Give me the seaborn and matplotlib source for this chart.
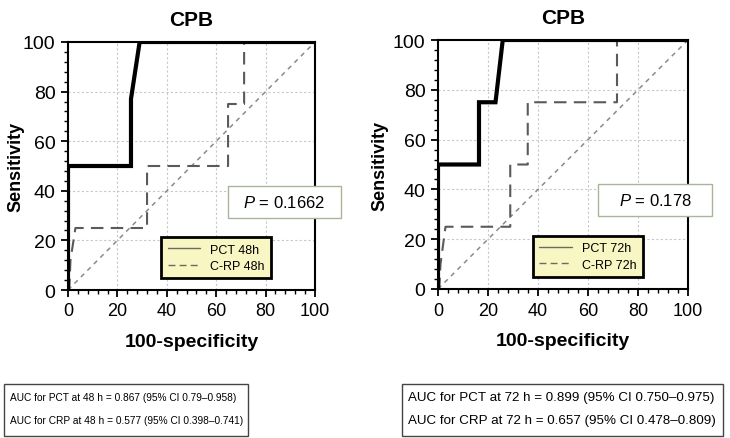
import numpy as np
import pandas as pd
import matplotlib
matplotlib.use("Agg")
import matplotlib.pyplot as plt
import seaborn as sns
from matplotlib.lines import Line2D
from matplotlib.patches import Rectangle
from matplotlib.ticker import MultipleLocator

# ROC-punkter lest av figuren (100-spesifisitet, sensitivitet)
pct48_x = [0, 0, 25.5, 25.5, 29, 100]
pct48_y = [0, 50, 50, 77, 100, 100]
crp48_x = [0, 0.5, 1, 3, 32, 32, 64.8, 64.8, 71.3, 71.3, 100]
crp48_y = [0, 0, 12, 25, 25, 50, 50, 75, 75, 100, 100]

pct72_x = [0, 0, 16.4, 16.4, 23, 25.9, 100]
pct72_y = [0, 50, 50, 75, 75, 100, 100]
crp72_x = [0, 0.5, 1, 3, 28.9, 28.9, 35.9, 35.9, 71.6, 71.6, 100]
crp72_y = [0, 0, 10, 25, 25, 50, 50, 75, 75, 100, 100]

diag = [0, 100]

titler = ["CPB", "CPB"]
leg_pct = ["PCT 48h", "PCT 72h"]
leg_crp = ["C-RP 48h", "C-RP 72h"]
p_verdier = ["0.1662", "0.178"]
auc_tekst = [
    ["AUC for PCT at 48 h = 0.867 (95% CI 0.79\u20130.958)",
     "AUC for CRP at 48 h = 0.577 (95% CI 0.398\u20130.741)"],
    ["AUC for PCT at 72 h = 0.899 (95% CI 0.750\u20130.975)",
     "AUC for CRP at 72 h = 0.657 (95% CI 0.478\u20130.809)"],
]

sns.set_style("white")
plt.rcParams['font.family'] = ['Liberation Sans', 'DejaVu Sans']
plt.rcParams['mathtext.fontset'] = 'custom'
plt.rcParams['mathtext.it'] = 'Liberation Sans:italic'
plt.rcParams['mathtext.rm'] = 'Liberation Sans'
for k in ['text.color', 'axes.labelcolor', 'xtick.color', 'ytick.color']:
    plt.rcParams[k] = 'black'

W, H = 730, 439
fig = plt.figure(figsize=(7.3, 4.39), dpi=100)

def px(x0, y0, x1, y1):
    # piksler -> figurkoordinater
    return [x0 / W, 1 - y1 / H, (x1 - x0) / W, (y1 - y0) / H]

akser = [fig.add_axes(px(68, 43, 315, 291)), fig.add_axes(px(438, 41, 688, 290))]
kurver = [(pct48_x, pct48_y, crp48_x, crp48_y), (pct72_x, pct72_y, crp72_x, crp72_y)]
p_bokser = [(228, 187, 341, 219), (598, 185, 712, 217)]
auc_bokser = [(4, 385, 248, 437), (402, 385, 723, 437)]
auc_size = [7.3, 9.6]
ylabpad = [-1, 3]

for i, ax in enumerate(akser):
    px_, py_, cx_, cy_ = kurver[i]
    for v in [20, 40, 60, 80]:
        ax.axhline(v, color="#c8c8c8", lw=0.8, ls=(0, (2, 2)), zorder=0)
        ax.axvline(v, color="#c8c8c8", lw=0.8, ls=(0, (2, 2)), zorder=0)
    sns.lineplot(x=diag, y=diag, ax=ax, color="#8a8a8a", lw=1.1,
                 linestyle=(0, (3, 3)), sort=False, estimator=None)
    sns.lineplot(x=cx_, y=cy_, ax=ax, color="#5a5a5a", lw=1.5,
                 linestyle=(0, (6, 3.5)), sort=False, estimator=None)
    sns.lineplot(x=px_, y=py_, ax=ax, color="black", lw=3.0,
                 sort=False, estimator=None, solid_joinstyle="miter")
    ax.set_xlim(0, 100)
    ax.set_ylim(0, 100)
    ax.xaxis.set_major_locator(MultipleLocator(20))
    ax.yaxis.set_major_locator(MultipleLocator(20))
    ax.xaxis.set_minor_locator(MultipleLocator(4))
    ax.yaxis.set_minor_locator(MultipleLocator(4))
    ax.tick_params(which="major", direction="out", length=5, width=1.3,
                   bottom=True, left=True, pad=4)
    ax.tick_params(which="minor", direction="out", length=3, width=1,
                   bottom=True, left=True)
    ax.tick_params(axis="y", labelsize=14)
    ax.tick_params(axis="x", labelsize=13)
    for s in ax.spines.values():
        s.set_linewidth(1.5)
        s.set_color("black")
    ax.set_title(titler[i], fontsize=15, fontweight="bold", pad=12)
    ax.set_ylabel("Sensitivity", fontsize=13, fontweight="bold", labelpad=ylabpad[i])
    ax.set_xlabel("100-specificity", fontsize=14, fontweight="bold", labelpad=10)
    ax.grid(False)

    handles = [Line2D([0], [0], color="#6b6b60", lw=1.0),
               Line2D([0], [0], color="#6b6b60", lw=1.0, ls=(0, (5, 3)))]
    leg = ax.legend(handles, [leg_pct[i], leg_crp[i]], loc="center",
                    bbox_to_anchor=(0.6, 0.13), fontsize=9, frameon=True,
                    fancybox=False, framealpha=1, facecolor="#f8f6c2",
                    edgecolor="black", handlelength=2.6, borderpad=0.5,
                    labelspacing=0.35, borderaxespad=0)
    leg.get_frame().set_linewidth(2)

    # P-boks
    x0, y0, x1, y1 = p_bokser[i]
    r = px(x0, y0, x1, y1)
    fig.patches.append(Rectangle((r[0], r[1]), r[2], r[3], transform=fig.transFigure,
                                 facecolor="white", edgecolor="#a7b59a", lw=1.0, zorder=5))
    fig.text(r[0] + r[2] / 2, r[1] + r[3] / 2, "$P$ = " + p_verdier[i],
             ha="center", va="center", fontsize=12, zorder=6)

    # AUC-boks
    x0, y0, x1, y1 = auc_bokser[i]
    r = px(x0, y0, x1, y1)
    fig.patches.append(Rectangle((r[0], r[1]), r[2], r[3], transform=fig.transFigure,
                                 facecolor="white", edgecolor="#444444", lw=1.0))
    for k, tekst in enumerate(auc_tekst[i]):
        fig.text((x0 + 6) / W, 1 - (398 + 23 * k) / H, tekst, ha="left", va="center",
                 fontsize=auc_size[i])

fig.savefig("out.png", dpi=100)
